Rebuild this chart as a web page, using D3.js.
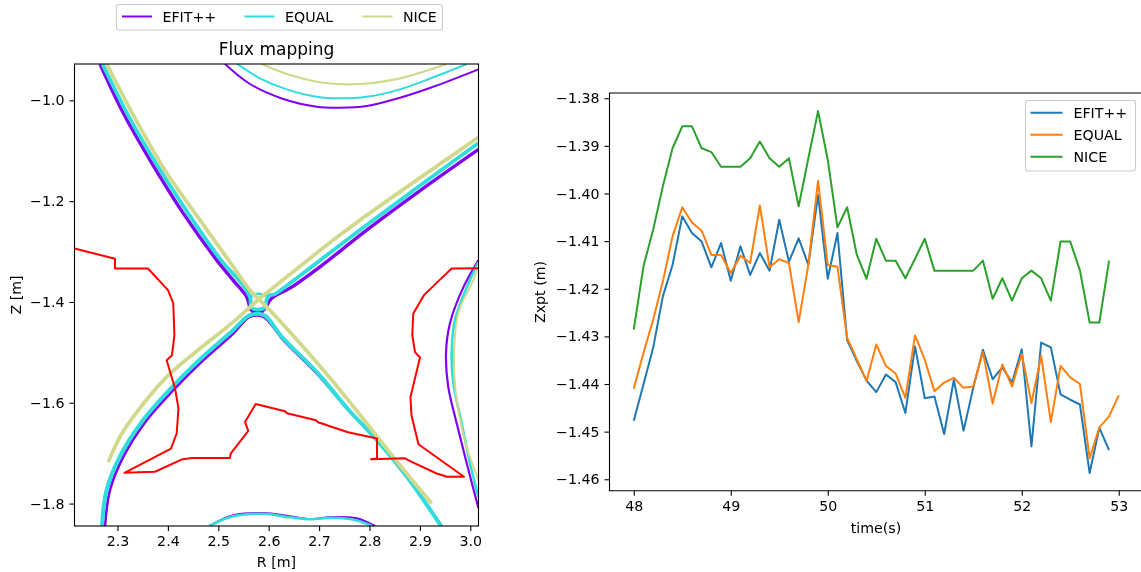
<!DOCTYPE html>
<html>
<head>
<meta charset="utf-8">
<script src="https://cdn.jsdelivr.net/npm/d3@7"></script>
<style>
  html, body { margin: 0; padding: 0; background: #fff; overflow: hidden; }
  svg { display: block; filter: blur(0.35px); }
  text { font-family: "DejaVu Sans", sans-serif; fill: #000; }
</style>
</head>
<body>
<svg id="chart" width="1141" height="572"></svg>
<script>
// flux mapping panel, all [R, Z] in metres
const wall = [[2.2147,-1.2938],[2.295,-1.3144],[2.295,-1.3337],[2.3605,-1.3337],[2.4002,-1.3766],[2.4107,-1.403],[2.4129,-1.4659],[2.4081,-1.5056],[2.3976,-1.5155],[2.4141,-1.5711],[2.421,-1.6108],[2.4175,-1.6605],[2.4062,-1.6908],[2.3139,-1.7389],[2.3744,-1.7369],[2.427,-1.7127],[2.4472,-1.7095],[2.5232,-1.7095],[2.5246,-1.7008],[2.5595,-1.6559],[2.553,-1.638],[2.5742,-1.6023],[2.6323,-1.6168],[2.6363,-1.6208],[2.6938,-1.6346],[2.6978,-1.6386],[2.7573,-1.6585],[2.8149,-1.671],[2.8149,-1.7107],[2.803,-1.712],[2.8704,-1.7101],[2.8837,-1.7174],[2.9333,-1.7404],[2.9538,-1.7468],[2.9875,-1.7468],[2.8972,-1.6823],[2.8833,-1.6247],[2.8813,-1.589],[2.9002,-1.5102],[2.8903,-1.4996],[2.8849,-1.4659],[2.8869,-1.4228],[2.9081,-1.3865],[2.9389,-1.3567],[2.9631,-1.3335],[3.0163,-1.3329]];

const efitTop = [[2.5133,-0.9279],[2.5629,-0.9676],[2.629,-0.9974],[2.6952,-1.0127],[2.7415,-1.0147],[2.7944,-1.0113],[2.8605,-0.9948],[2.9266,-0.973],[3.0163,-0.9385]];
const equalTop = [[2.5377,-0.9279],[2.5827,-0.9563],[2.6357,-0.9782],[2.6952,-0.9929],[2.7415,-0.996],[2.7944,-0.9929],[2.8605,-0.9782],[2.9266,-0.9543],[2.9929,-0.9279]];
const niceTop = [[2.5861,-0.9279],[2.6423,-0.9498],[2.7083,-0.9651],[2.7812,-0.9676],[2.8605,-0.9563],[2.9532,-0.9279]];

const efitUpper = [[2.2653,-0.9279],[2.3115,-1.0252],[2.3645,-1.1185],[2.4306,-1.2243],[2.4968,-1.317],[2.5292,-1.3567],[2.5563,-1.3899],[2.5663,-1.4163],[2.5887,-1.4163],[2.606,-1.3925],[2.6423,-1.3726],[2.7018,-1.3303],[2.7944,-1.2575],[2.8937,-1.184],[3.0163,-1.0973]];
const efitHub = [[2.5663,-1.4163],[2.5778,-1.4203],[2.5887,-1.4163]];
const efitLower = [[2.2752,-1.8445],[2.2851,-1.7736],[2.3115,-1.7075],[2.3579,-1.6346],[2.4107,-1.5751],[2.4637,-1.5215],[2.5298,-1.4625],[2.5629,-1.4296],[2.5893,-1.4296],[2.629,-1.4758],[2.6952,-1.5419],[2.7613,-1.6182],[2.8143,-1.6743],[2.8738,-1.7472],[2.9433,-1.8445]];
const equalUpper = [[2.2702,-0.9279],[2.3188,-1.0252],[2.3724,-1.1185],[2.4399,-1.2237],[2.5054,-1.317],[2.549,-1.3666],[2.5629,-1.3905],[2.5669,-1.4123],[2.5907,-1.4123],[2.5986,-1.3885],[2.6125,-1.3845],[2.6423,-1.3627],[2.7282,-1.2972],[2.7944,-1.2475],[2.8937,-1.1741],[3.0163,-1.0848]];
const equalCap = [[2.5629,-1.3905],[2.5748,-1.3845],[2.5867,-1.3845],[2.5986,-1.3885]];
const equalLower = [[2.2692,-1.8445],[2.2782,-1.7736],[2.305,-1.7061],[2.3506,-1.6346],[2.4062,-1.5711],[2.4597,-1.5175],[2.5272,-1.458],[2.5629,-1.4262],[2.5907,-1.4262],[2.6264,-1.4698],[2.6938,-1.5374],[2.7593,-1.6148],[2.8129,-1.6723],[2.8724,-1.7438],[2.9419,-1.8445]];
const niceDown = [[2.2786,-0.9279],[2.3313,-1.0292],[2.3976,-1.1443],[2.4637,-1.2376],[2.5298,-1.3303],[2.5629,-1.3766],[2.596,-1.4097],[2.6621,-1.4818],[2.7282,-1.5586],[2.7944,-1.6406],[2.8605,-1.724],[2.9234,-1.8]];
const niceUp = [[2.2817,-1.7174],[2.305,-1.6678],[2.3313,-1.6281],[2.3976,-1.5487],[2.4637,-1.4923],[2.5298,-1.4395],[2.5827,-1.3925],[2.6026,-1.3766],[2.7282,-1.2773],[2.7812,-1.2376],[2.8937,-1.1582],[3.0163,-1.0734]];

const efitRight = [[3.0163,-1.317],[2.9855,-1.3726],[2.9597,-1.4421],[2.9518,-1.5016],[2.9563,-1.5685],[2.973,-1.6406],[2.9929,-1.72],[3.0163,-1.8093]];
const equalRight = [[3.0163,-1.321],[2.9974,-1.3607],[2.9696,-1.4361],[2.9631,-1.5016],[2.9663,-1.5612],[2.9829,-1.6406],[2.9994,-1.72],[3.0163,-1.7875]];
const niceRight = [[3.0163,-1.323],[3.006,-1.3567],[2.9762,-1.4222],[2.9677,-1.5288],[2.9762,-1.6148],[2.9929,-1.6877],[3.0163,-1.7537]];

const efitBottom = [[2.4821,-1.8445],[2.5298,-1.8232],[2.5893,-1.8186],[2.6423,-1.8252],[2.6819,-1.8306],[2.7282,-1.8266],[2.7746,-1.8292],[2.8109,-1.8445]];
const equalBottom = [[2.4821,-1.8445],[2.5292,-1.8252],[2.5887,-1.8202],[2.6423,-1.8272],[2.6819,-1.8312],[2.7276,-1.8282],[2.7732,-1.8332],[2.805,-1.8445]];

const rTicks = [2.3, 2.4, 2.5, 2.6, 2.7, 2.8, 2.9, 3.0];
const zTicks = [-1.0, -1.2, -1.4, -1.6, -1.8];

// Zxpt time traces
const time = [48,48.1,48.2,48.3,48.4,48.5,48.6,48.7,48.8,48.9,49,49.1,49.2,49.3,49.4,49.5,49.6,49.7,49.8,49.9,50,50.1,50.2,50.3,50.4,50.5,50.6,50.7,50.8,50.9,51,51.1,51.2,51.3,51.4,51.5,51.6,51.7,51.8,51.9,52,52.1,52.2,52.3,52.4,52.5,52.6,52.7,52.8,52.9,53];
const zxptEfit = [-1.4477,-1.4401,-1.4324,-1.4216,-1.415,-1.4048,-1.4083,-1.4101,-1.4155,-1.4104,-1.4183,-1.4111,-1.4171,-1.4125,-1.4162,-1.4055,-1.4143,-1.4094,-1.415,-1.4003,-1.4179,-1.4083,-1.4308,-1.4352,-1.4393,-1.4417,-1.438,-1.4396,-1.4461,-1.4321,-1.443,-1.4426,-1.4505,-1.4391,-1.4498,-1.4408,-1.4328,-1.439,-1.4365,-1.4397,-1.4327,-1.4531,-1.4313,-1.4323,-1.4422,-1.4433,-1.4443,-1.4587,-1.4492,-1.4539];
const zxptEqual = [-1.441,-1.4335,-1.4265,-1.4185,-1.409,-1.4029,-1.4061,-1.4078,-1.4129,-1.4129,-1.4167,-1.4131,-1.4146,-1.4025,-1.4155,-1.4138,-1.4146,-1.427,-1.415,-1.3973,-1.415,-1.4154,-1.4303,-1.4348,-1.4394,-1.4317,-1.4362,-1.4378,-1.4429,-1.4298,-1.4349,-1.4415,-1.4397,-1.4387,-1.4408,-1.4405,-1.4333,-1.4441,-1.4359,-1.4405,-1.4337,-1.444,-1.4341,-1.448,-1.4362,-1.4386,-1.44,-1.4556,-1.4491,-1.4468,-1.4424];
const zxptNice = [-1.4286,-1.4153,-1.4076,-1.3985,-1.3905,-1.3859,-1.3859,-1.3905,-1.3913,-1.3944,-1.3944,-1.3944,-1.3926,-1.3891,-1.3926,-1.3944,-1.3926,-1.4027,-1.3926,-1.3827,-1.3929,-1.4071,-1.4029,-1.4129,-1.4179,-1.4095,-1.4141,-1.4141,-1.4178,-1.4137,-1.4095,-1.4162,-1.4162,-1.4162,-1.4162,-1.4162,-1.4141,-1.4221,-1.4178,-1.4225,-1.4178,-1.4162,-1.4178,-1.4225,-1.4101,-1.4101,-1.4162,-1.4271,-1.4271,-1.4141];

const timeTicks = [48, 49, 50, 51, 52, 53];
const zxptTicks = [-1.38, -1.39, -1.40, -1.41, -1.42, -1.43, -1.44, -1.45, -1.46];

const names = ["EFIT++", "EQUAL", "NICE"];
const fluxColors = ["#8000f0", "#30dcdc", "#d2d98c"];
const traceColors = ["#1f77b4", "#ff7f0e", "#2ca02c"];

const FONT = 14.2;
const svg = d3.select("#chart");
const fmt = (n, d) => v => v.toFixed(d).replace("-", "\u2212");

function axisStyle(g) {
  g.select(".domain").remove();
  g.selectAll("line").attr("stroke", "#000").attr("stroke-width", 1.1);
  g.selectAll("text").style("font-size", FONT + "px");
}

// ---- left panel
const L = { left: 74.5, right: 478.5, top: 64, bottom: 526 };
const x1 = d3.scaleLinear().domain([2.2147, 3.0163]).range([L.left, L.right]);
const y1 = d3.scaleLinear().domain([-0.9279, -1.8445]).range([L.top, L.bottom]);

svg.append("defs").append("clipPath").attr("id", "clipL").append("rect")
  .attr("x", L.left).attr("y", L.top).attr("width", L.right - L.left).attr("height", L.bottom - L.top);

const smooth = d3.line().x(d => x1(d[0])).y(d => y1(d[1])).curve(d3.curveCatmullRom.alpha(0.5));
const straight = d3.line().x(d => x1(d[0])).y(d => y1(d[1]));
const left = svg.append("g").attr("clip-path", "url(#clipL)");

function flux(pts, i, w) {
  left.append("path").attr("d", smooth(pts)).attr("fill", "none")
    .attr("stroke", fluxColors[i]).attr("stroke-width", w);
}

flux(efitUpper, 0, 3.4); flux(efitLower, 0, 2.6); flux(efitHub, 0, 4.5);
flux(efitTop, 0, 2); flux(efitRight, 0, 2.2); flux(efitBottom, 0, 2);
flux(equalUpper, 1, 3.8); flux(equalLower, 1, 4); flux(equalCap, 1, 2.5);
flux(equalTop, 1, 2); flux(equalRight, 1, 2.6); flux(equalBottom, 1, 2.6);
flux(niceDown, 2, 3.8); flux(niceUp, 2, 3.8);
flux(niceTop, 2, 2.2); flux(niceRight, 2, 2);

left.append("path").attr("d", straight(wall)).attr("fill", "none")
  .attr("stroke", "#ff0000").attr("stroke-width", 2).attr("stroke-linejoin", "round");

svg.append("g").attr("transform", `translate(0,${L.bottom})`)
  .call(d3.axisBottom(x1).tickValues(rTicks).tickSize(5).tickPadding(5).tickFormat(fmt(0, 1)))
  .call(axisStyle);
svg.append("g").attr("transform", `translate(${L.left},0)`)
  .call(d3.axisLeft(y1).tickValues(zTicks).tickSize(5).tickPadding(5).tickFormat(fmt(0, 1)))
  .call(axisStyle);
svg.append("rect").attr("x", L.left).attr("y", L.top)
  .attr("width", L.right - L.left).attr("height", L.bottom - L.top)
  .attr("fill", "none").attr("stroke", "#000").attr("stroke-width", 1.1);

svg.append("text").attr("x", 276.5).attr("y", 55).attr("text-anchor", "middle")
  .style("font-size", "17px").text("Flux mapping");
svg.append("text").attr("x", 276.5).attr("y", 566.5).attr("text-anchor", "middle")
  .style("font-size", FONT + "px").text("R [m]");
svg.append("text").attr("transform", "translate(21,295) rotate(-90)").attr("text-anchor", "middle")
  .style("font-size", FONT + "px").text("Z [m]");

// top legend
const legend1 = svg.append("g");
legend1.append("rect").attr("x", 116.5).attr("y", 4.5).attr("width", 326).attr("height", 25.5).attr("rx", 2.5)
  .attr("fill", "#fff").attr("stroke", "#ccc").attr("stroke-width", 1.1);
const sampleX = [122, 244.5, 362.5];
names.forEach((n, i) => {
  legend1.append("line").attr("x1", sampleX[i]).attr("x2", sampleX[i] + 30).attr("y1", 16.5).attr("y2", 16.5)
    .attr("stroke", fluxColors[i]).attr("stroke-width", 2);
  legend1.append("text").attr("x", sampleX[i] + 40.5).attr("y", 21.5)
    .style("font-size", FONT + "px").text(n);
});

// ---- right panel
const R = { left: 609.5, right: 1143, top: 93, bottom: 490.7 };
const x2 = d3.scaleLinear().domain([47.75, 53.25]).range([R.left, R.right]);
const y2 = d3.scaleLinear().domain([-1.3789, -1.4624]).range([R.top, R.bottom]);

const trace = d3.line().x((d, i) => x2(time[i])).y(d => y2(d));
[zxptEfit, zxptEqual, zxptNice].forEach((s, i) => {
  svg.append("path").attr("d", trace(s)).attr("fill", "none")
    .attr("stroke", traceColors[i]).attr("stroke-width", 2).attr("stroke-linejoin", "round");
});

svg.append("g").attr("transform", `translate(0,${R.bottom})`)
  .call(d3.axisBottom(x2).tickValues(timeTicks).tickSize(5).tickPadding(5).tickFormat(d3.format("d")))
  .call(axisStyle);
svg.append("g").attr("transform", `translate(${R.left},0)`)
  .call(d3.axisLeft(y2).tickValues(zxptTicks).tickSize(5).tickPadding(5).tickFormat(fmt(0, 2)))
  .call(axisStyle);
svg.append("path").attr("d", `M${R.right},${R.top}H${R.left}V${R.bottom}H${R.right}`)
  .attr("fill", "none").attr("stroke", "#000").attr("stroke-width", 1.1);

svg.append("text").attr("x", 876).attr("y", 533).attr("text-anchor", "middle")
  .style("font-size", FONT + "px").text("time(s)");
svg.append("text").attr("transform", "translate(545,292) rotate(-90)").attr("text-anchor", "middle")
  .style("font-size", FONT + "px").text("Zxpt (m)");

// right legend
const legend2 = svg.append("g");
legend2.append("rect").attr("x", 1025.5).attr("y", 100.5).attr("width", 110).attr("height", 70.5).attr("rx", 2.5)
  .attr("fill", "#fff").attr("stroke", "#ccc").attr("stroke-width", 1.1);
const sampleY = [112.7, 134.7, 156.7];
names.forEach((n, i) => {
  legend2.append("line").attr("x1", 1030.5).attr("x2", 1062.5).attr("y1", sampleY[i]).attr("y2", sampleY[i])
    .attr("stroke", traceColors[i]).attr("stroke-width", 2);
  legend2.append("text").attr("x", 1073.5).attr("y", sampleY[i] + 5)
    .style("font-size", FONT + "px").text(n);
});
</script>
</body>
</html>
